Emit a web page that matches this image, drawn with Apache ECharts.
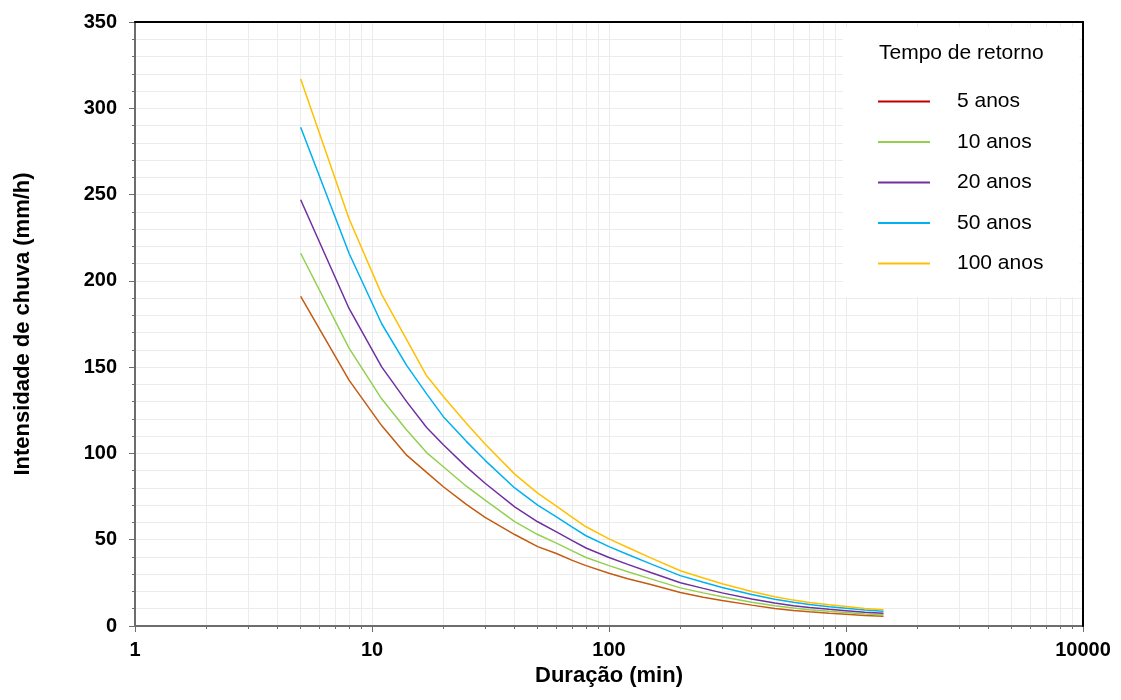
<!DOCTYPE html>
<html>
<head>
<meta charset="utf-8">
<script src="https://cdn.jsdelivr.net/npm/echarts@6/dist/echarts.min.js"></script>
<style>
html,body{margin:0;padding:0;background:#fff;}
#chart{width:1121px;height:700px;}
</style>
</head>
<body>
<div id="chart"></div>
<script>
// Duração (min)
var durations = [5, 8, 11, 14, 17, 20, 25, 30, 40, 50, 60, 70, 80, 100, 120, 150, 200, 250, 300, 400, 500, 600, 700, 850, 1000, 1200, 1440];
// Intensidade de chuva (mm/h) por tempo de retorno
var i5   = [191, 142.5, 116, 99, 89, 80.7, 70.5, 63, 53, 46, 42, 38, 35, 30.6, 27.4, 24, 19.4, 16.7, 14.8, 12.1, 10.2, 9.0, 8.2, 7.4, 6.8, 6.1, 5.6];
var i10  = [216, 161, 131.5, 113.6, 100.5, 92.3, 81, 73, 60.5, 53, 48, 43.5, 39.7, 35, 31.4, 27.3, 22.1, 19.2, 16.9, 13.8, 11.7, 10.4, 9.4, 8.5, 7.8, 7.0, 6.5];
var i20  = [247, 184, 150, 130, 115, 105, 92.2, 82.7, 69, 60.4, 54.5, 49.5, 45.2, 39.7, 35.7, 31, 25.1, 21.8, 19.2, 15.7, 13.3, 11.8, 10.7, 9.7, 8.9, 8.0, 7.4];
var i50  = [289, 216, 175, 151, 134.5, 121.3, 107, 96, 80, 70, 63.2, 57.3, 52.3, 46, 41.4, 36, 29.2, 25.3, 22.3, 18.2, 15.5, 13.7, 12.4, 11.2, 10.3, 9.3, 8.6];
var i100 = [317, 236, 192, 166, 145, 133, 117.5, 105.5, 88, 77, 69.5, 63, 57.5, 50.5, 45.5, 39.5, 32, 27.8, 24.5, 20, 17, 15, 13.6, 12.3, 11.3, 10.2, 9.4];

var seriesNames = ['5 anos', '10 anos', '20 anos', '50 anos', '100 anos'];
var seriesValues = [i5, i10, i20, i50, i100];
var lineColors = ['#C55A11', '#92D050', '#7030A0', '#00B0F0', '#FFC000'];
var legendColors = ['#C00000', '#92D050', '#7030A0', '#00B0F0', '#FFC000'];

var xMajor = [1, 10, 100, 1000, 10000];
var xMinor = [];
for (var d = 1; d < 10000; d *= 10) {
  for (var k = 2; k <= 9; k++) xMinor.push(d * k);
}

var FONT = '"Liberation Sans", Arial, sans-serif';

var series = seriesNames.map(function (n, si) {
  return {
    name: n,
    type: 'line',
    xAxisIndex: 0,
    yAxisIndex: 0,
    showSymbol: false,
    symbol: 'none',
    smooth: false,
    z: 3,
    itemStyle: { color: lineColors[si] },
    lineStyle: { color: lineColors[si], width: 1.5 },
    data: durations.map(function (t, i) { return [t, seriesValues[si][i]]; })
  };
});

var chart = echarts.init(document.getElementById('chart'), null, { renderer: 'canvas' });
chart.setOption({
  backgroundColor: '#ffffff',
  animation: false,
  textStyle: { fontFamily: FONT },
  title: {
    text: 'Tempo de retorno',
    left: 874,
    top: 38,
    textStyle: { fontFamily: FONT, fontSize: 21, fontWeight: 'normal', color: '#000' }
  },
  legend: {
    orient: 'vertical',
    left: 843,
    top: 27,
    padding: [64, 36, 23, 35],
    backgroundColor: '#ffffff',
    itemWidth: 52,
    itemHeight: 14,
    itemGap: 19.5,
    icon: 'path://M0,6 L52,6 L52,8 L0,8 Z',
    textStyle: { fontFamily: FONT, fontSize: 21, color: '#000', padding: [0, 0, 0, 22] },
    data: seriesNames.map(function (n, i) {
      return { name: n, itemStyle: { color: legendColors[i] }, lineStyle: { color: legendColors[i], width: 2 } };
    })
  },
  grid: { left: 135, right: 38, top: 22, bottom: 74, containLabel: false },
  xAxis: [
    {
      type: 'log',
      logBase: 10,
      min: 1,
      max: 10000,
      position: 'bottom',
      name: 'Duração (min)',
      nameLocation: 'middle',
      nameGap: 37,
      nameTextStyle: { fontFamily: FONT, fontSize: 22, fontWeight: 'bold', color: '#000' },
      axisLine: { show: true, onZero: false, lineStyle: { color: '#6d6d6d', width: 2 } },
      axisTick: { show: true, inside: false, length: 6, customValues: xMajor, lineStyle: { color: '#6d6d6d', width: 1 } },
      axisLabel: { show: true, margin: 14, customValues: xMajor, fontFamily: FONT, fontSize: 20, fontWeight: 'bold', color: '#000',
        formatter: function (v) { return String(Math.round(v)); } },
      splitLine: { show: true, lineStyle: { color: '#ececec', width: 1 } },
      minorTick: { show: false },
      z: 2
    },
    {
      type: 'log',
      logBase: 10,
      min: 1,
      max: 10000,
      position: 'bottom',
      axisLine: { show: false },
      axisTick: { show: true, inside: false, length: 3, customValues: xMinor, lineStyle: { color: '#6d6d6d', width: 1 } },
      axisLabel: { show: false },
      splitLine: { show: true, lineStyle: { color: '#ececec', width: 1 } },
      z: 1
    },
    {
      type: 'log',
      logBase: 10,
      min: 1,
      max: 10000,
      position: 'top',
      axisLine: { show: true, onZero: false, lineStyle: { color: '#000', width: 2 } },
      axisTick: { show: false },
      axisLabel: { show: false },
      splitLine: { show: false },
      z: 5
    }
  ],
  yAxis: [
    {
      type: 'value',
      min: 0,
      max: 350,
      interval: 50,
      position: 'left',
      name: 'Intensidade de chuva (mm/h)',
      nameLocation: 'middle',
      nameGap: 101,
      nameRotate: 90,
      nameTextStyle: { fontFamily: FONT, fontSize: 22, fontWeight: 'bold', color: '#000' },
      axisLine: { show: true, onZero: false, lineStyle: { color: '#6d6d6d', width: 2 } },
      axisTick: { show: true, inside: false, length: 6, lineStyle: { color: '#6d6d6d', width: 1 } },
      minorTick: { show: true, splitNumber: 5, length: 3, lineStyle: { color: '#6d6d6d', width: 1 } },
      axisLabel: { margin: 18, fontFamily: FONT, fontSize: 20, fontWeight: 'bold', color: '#000' },
      splitLine: { show: true, lineStyle: { color: '#ececec', width: 1 } },
      minorSplitLine: { show: true, lineStyle: { color: '#ececec', width: 1 } },
      z: 2
    },
    {
      type: 'value',
      min: 0,
      max: 350,
      interval: 50,
      position: 'right',
      axisLine: { show: true, onZero: false, lineStyle: { color: '#000', width: 2 } },
      axisTick: { show: false },
      axisLabel: { show: false },
      splitLine: { show: false },
      z: 5
    }
  ],
  series: series
});
</script>
</body>
</html>
